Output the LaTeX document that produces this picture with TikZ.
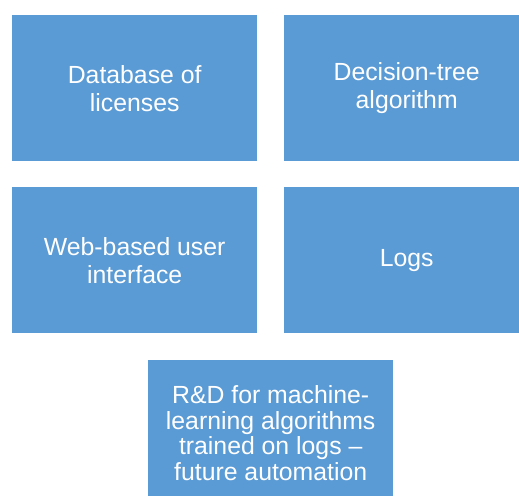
\documentclass[tikz,border=0pt]{standalone}
\usepackage{fontspec}
\setmainfont{Liberation Sans}
\definecolor{tileblue}{HTML}{5B9BD5}
\begin{document}
\begin{tikzpicture}[x=1pt,y=-1pt,
  tile/.style={fill=tileblue, draw=none, minimum width=245pt, minimum height=146pt,
    text=white, align=center, inner sep=0pt, anchor=north west,
    font=\fontsize{24.8}{28}\selectfont},
  tighttile/.style={tile, font=\fontsize{24.8}{25.5}\selectfont}]
  \useasboundingbox (0,0) rectangle (519,495);
  \clip (0,0) rectangle (519,495);
  \node[tile] (db)   at (12,15)   {Database of\\licenses};
  \node[tile] (tree) at (284,15)  {Decision-tree\\algorithm};
  \node[tile] (web)  at (12,187)  {Web-based user\\interface};
  \node[tile] (logs) at (284,187) {Logs};
  \node[tighttile] (rnd) at (148,360) {R\&D for machine-\\learning algorithms\\trained on logs --\\future automation};
\end{tikzpicture}
\end{document}
